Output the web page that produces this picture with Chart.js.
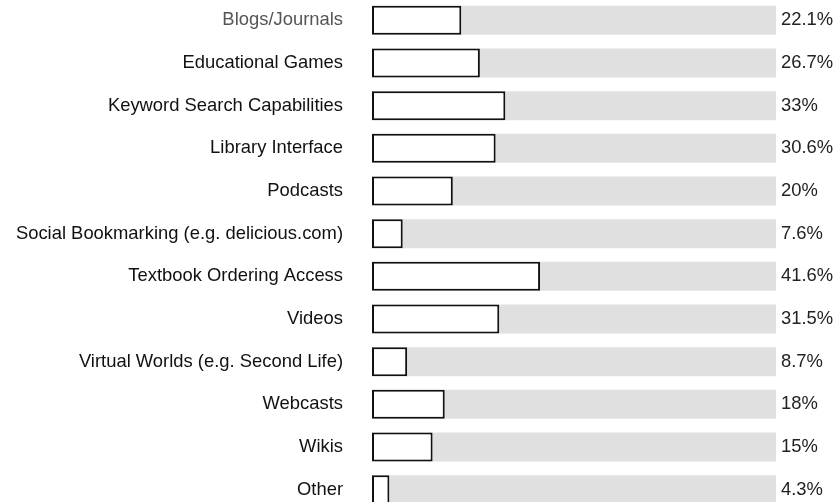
<!DOCTYPE html>
<html>
<head>
<meta charset="utf-8">
<script src="https://cdn.jsdelivr.net/npm/chart.js@4/dist/chart.umd.min.js"></script>
<style>
  html, body { margin: 0; padding: 0; background: #fff; overflow: hidden; }
  #wrap { position: relative; top: -1px; width: 838px; height: 512px; }
</style>
</head>
<body>
<div id="wrap"><canvas id="chart" width="838" height="512"></canvas></div>
<script>
const categories = [
  "Blogs/Journals",
  "Educational Games",
  "Keyword Search Capabilities",
  "Library Interface",
  "Podcasts",
  "Social Bookmarking (e.g. delicious.com)",
  "Textbook Ordering Access",
  "Videos",
  "Virtual Worlds (e.g. Second Life)",
  "Webcasts",
  "Wikis",
  "Other"
];
const percents = [22.1, 26.7, 33, 30.6, 20, 7.6, 41.6, 31.5, 8.7, 18, 15, 4.3];
const percentLabels = ["22.1%", "26.7%", "33%", "30.6%", "20%", "7.6%", "41.6%", "31.5%", "8.7%", "18%", "15%", "4.3%"];
const track = categories.map(() => 100);

const labelFont = { family: "Liberation Sans, Arial", size: 18.4 };

// y axes: fixed widths, no extra top/bottom padding from tick labels
function fixAxis(width) {
  return s => {
    s.width = width;
    s.paddingTop = 0;
    s.paddingBottom = 0;
  };
}

const ctx = document.getElementById("chart").getContext("2d");
new Chart(ctx, {
  type: "bar",
  data: {
    labels: categories,
    datasets: [
      {
        label: "Percent",
        data: percents,
        backgroundColor: "#ffffff",
        borderColor: "#111111",
        borderWidth: 2,
        borderSkipped: false,
        grouped: false,
        order: 0,
        categoryPercentage: 1,
        barPercentage: 0.68
      },
      {
        label: "Track",
        data: track,
        backgroundColor: "#e0e0e0",
        borderWidth: 0,
        grouped: false,
        order: 1,
        categoryPercentage: 1,
        barPercentage: 0.68
      }
    ]
  },
  options: {
    indexAxis: "y",
    responsive: false,
    devicePixelRatio: 1,
    animation: false,
    layout: { padding: 0 },
    plugins: { legend: { display: false }, tooltip: { enabled: false } },
    scales: {
      x: { display: false, min: 0, max: 100 },
      y: {
        grid: { display: false, drawTicks: false },
        border: { display: false },
        ticks: {
          font: labelFont,
          color: c => (c.index === 0 ? "#555555" : "#111111"),
          padding: 29
        },
        afterFit: fixAxis(372)
      },
      y2: {
        type: "category",
        labels: percentLabels,
        position: "right",
        grid: { display: false, drawTicks: false },
        border: { display: false },
        ticks: {
          font: labelFont,
          color: "#222222",
          padding: 5
        },
        afterFit: fixAxis(62)
      }
    }
  }
});
</script>
</body>
</html>
